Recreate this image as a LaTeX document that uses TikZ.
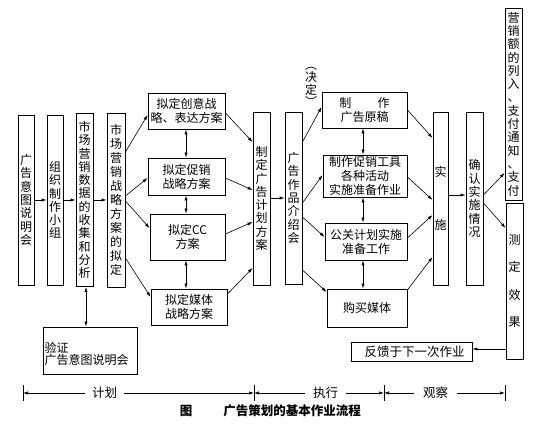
\documentclass[tikz,border=0pt]{standalone}
\usepackage{fontspec}
\setmainfont{Noto Sans CJK SC}
\usetikzlibrary{arrows.meta}
\begin{document}
\begin{tikzpicture}[x=1pt,y=-1pt,
  box/.style={draw, line width=0.9pt, inner sep=0pt, align=center, font=\fontsize{12}{14}\selectfont},
  vbox/.style={box, font=\fontsize{12}{13.3}\selectfont},
  lbl/.style={inner sep=0pt, align=center, font=\fontsize{12}{13}\selectfont},
  arr/.style={-{Latex[length=5pt,width=3.2pt]}, line width=0.6pt},
  darr/.style={{Latex[length=5pt,width=3.2pt]}-{Latex[length=5pt,width=3.2pt]}, line width=0.6pt}]
\useasboundingbox (0,0) rectangle (543,434);

% planning column
\node[vbox, minimum width=16, minimum height=170] (b1) at (26,200) {广\\告\\意\\图\\说\\明\\会};
\node[vbox, minimum width=16, minimum height=170] (b2) at (55,200) {组\\织\\制\\作\\小\\组};
\node[vbox, minimum width=17, minimum height=173] (b3) at (84.5,200) {市\\场\\营\\销\\数\\据\\的\\收\\集\\和\\分\\析};
\node[vbox, minimum width=18, minimum height=174, font=\fontsize{12}{14}\selectfont] (b4) at (116,200) {市\\场\\营\\销\\战\\略\\方\\案\\的\\拟\\定};

\node[box, minimum width=77, minimum height=36] (A) at (186.5,111) {拟定创意战\\略、表达方案};
\node[box, minimum width=77, minimum height=37] (B) at (186.5,176.5) {拟定促销\\战略方案};
\node[box, minimum width=75, minimum height=46] (C) at (187.5,237) {拟定CC\\方案};
\node[box, minimum width=76, minimum height=36] (D) at (189,307) {拟定媒体\\战略方案};

\node[vbox, minimum width=17, minimum height=173] (P) at (261.5,198.5) {制\\定\\广\\告\\计\\划\\方\\案};
\node[vbox, minimum width=17, minimum height=172] (Q) at (293.5,198) {广\\告\\作\\品\\介\\绍\\会};
\node[lbl, font=\fontsize{12}{12.5}\selectfont] (dec) at (311,87) {︵\\决\\定\\︶};

% execution column
\node[box, minimum width=85, minimum height=36] (E) at (364.5,110) {制\hspace{2.2em}作\\广告原稿};
\node[box, minimum width=84, minimum height=42] (F) at (365,176) {制作促销工具\\各种活动\\实施准备作业};
\node[box, minimum width=82, minimum height=37] (G) at (366,241.5) {公关计划实施\\准备工作};
\node[box, minimum width=80, minimum height=38] (H) at (367,308) {购买媒体};

\node[vbox, minimum width=15, minimum height=173] (R) at (440.5,198.5) {实\\[40pt]施};
\node[vbox, minimum width=17, minimum height=173] (S) at (474.5,198.5) {确\\认\\实\\施\\情\\况};
\node[vbox, minimum width=17, minimum height=192] (T) at (513.5,104) {营\\销\\额\\的\\列\\入\\、\\支\\付\\通\\知\\、\\支\\付};
\node[vbox, minimum width=17, minimum height=156] (U) at (514.5,281) {测\\[14pt]定\\[14pt]效\\[14pt]果};

\node[box, minimum width=121, minimum height=19, font=\fontsize{12.5}{14}\selectfont] (V) at (411.5,351.5) {\hspace{6pt}反馈于下一次作业};
\node[draw, line width=0.9pt, minimum width=94, minimum height=47] (W) at (90,350.5) {};
\node[lbl, align=left, anchor=south west, font=\fontsize{12}{12.5}\selectfont] (Wt) at (44.5,366) {验证\\广告意图说明会};

% connectors
\draw[arr] (b1) -- (b2);
\draw[arr] (b2) -- (b3);
\draw[arr] (b3) -- (b4);
\draw[darr] (b3.south -| 86,0) -- (W.north -| 86,0);

\draw[arr] (b4.east |- 0,152) -- (A.west |- 0,115);
\draw[arr] (b4.east |- 0,196) -- (B.west |- 0,178);
\draw[arr] (b4.east |- 0,201) -- (C.west |- 0,228);
\draw[arr] (b4.east |- 0,258) -- (D.west |- 0,297);

\draw[darr] (A.south -| 186,0) -- (B.north -| 186,0);
\draw[darr] (B.south -| 186,0) -- (C.north -| 186,0);
\draw[darr] (C.south -| 186,0) -- (D.north -| 186,0);

\draw[arr] (A.east |- 0,113) -- (P.west |- 0,142);
\draw[arr] (B.east |- 0,178) -- (P.west |- 0,190);
\draw[arr] (C.east |- 0,234) -- (P.west |- 0,222);
\draw[arr] (D.east |- 0,294) -- (P.west |- 0,268);

\draw[arr] (P.east |- 0,198) -- (Q.west |- 0,198);

\draw[arr] (Q.east |- 0,142) -- (E.west |- 0,107);
\draw[arr] (Q.east |- 0,203) -- (F.west |- 0,175);
\draw[arr] (Q.east |- 0,217) -- (G.west |- 0,237);
\draw[arr] (Q.east |- 0,270) -- (H.west |- 0,292);

\draw[darr] (E.south -| 363,0) -- (F.north -| 363,0);
\draw[darr] (F.south -| 363,0) -- (G.north -| 363,0);
\draw[darr] (G.south -| 363,0) -- (H.north -| 363,0);

\draw[arr] (E.east |- 0,110) -- (R.west |- 0,138);
\draw[arr] (F.east |- 0,177) -- (R.west |- 0,200);
\draw[arr] (G.east |- 0,238) -- (R.west |- 0,215);
\draw[arr] (H.east |- 0,290) -- (R.west |- 0,257);

\draw[arr] (R.east |- 0,195) -- (S.west |- 0,195);
\draw[arr] (S.east |- 0,195) -- (T.west |- 0,173);
\draw[arr] (S.east |- 0,203) -- (U.west |- 0,228);
\draw[arr] (U.west |- 0,349) -- (V.east |- 0,349);

% timeline
\coordinate (t1) at (23,393);
\coordinate (t2) at (254,393);
\coordinate (t3) at (384,393);
\coordinate (t4) at (505,393);
\foreach \t in {t1,t2,t3,t4} \draw[line width=0.8pt] ([yshift=-8pt]\t) -- ([yshift=8pt]\t);
\node[lbl, inner xsep=6.5pt, font=\fontsize{12.5}{13}\selectfont] (l1) at (104.5,393) {计划};
\node[lbl, inner xsep=7.5pt, font=\fontsize{12.5}{13}\selectfont] (l2) at (325.5,393) {执行};
\node[lbl, inner xsep=8.5pt, font=\fontsize{12.5}{13}\selectfont] (l3) at (435.5,393) {观察};
\draw[arr] (l1.west) -- (t1);
\draw[arr] (l1.east) -- (t2);
\draw[arr] (l2.west) -- (t2);
\draw[arr] (l2.east) -- (t3);
\draw[arr] (l3.west) -- (t3);
\draw[arr] (l3.east) -- (t4);

% caption
\node[lbl, font=\bfseries\fontsize{12.5}{14}\selectfont] (fig) at (186,411) {图};
\node[lbl, font=\bfseries\fontsize{12.5}{14}\selectfont] (cap) at (292,411) {广告策划的基本作业流程};
\end{tikzpicture}
\end{document}
